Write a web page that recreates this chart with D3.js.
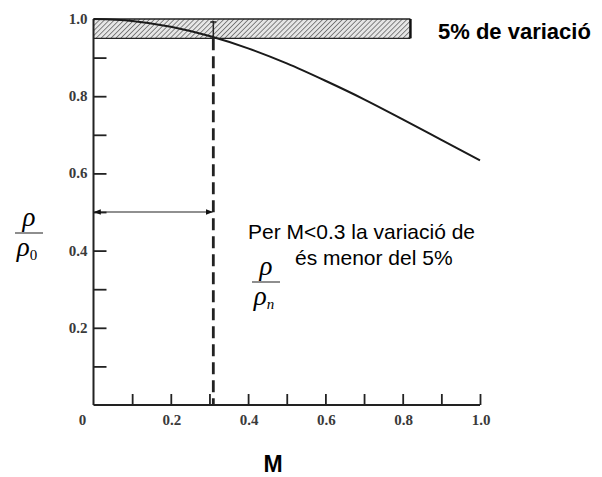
<!DOCTYPE html>
<html>
<head>
<meta charset="utf-8">
<script src="https://cdn.jsdelivr.net/npm/d3@7/dist/d3.min.js"></script>
<style>
  html, body { margin: 0; padding: 0; background: #fff; }
  svg { display: block; }
  .tick-lbl { font-family: "Liberation Serif", "DejaVu Serif", serif; font-size: 15px; font-weight: bold; fill: #3a3a3a; }
  .sans { font-family: "Liberation Sans", Arial, sans-serif; fill: #000; }
  .greek { font-family: "Liberation Serif", "Times New Roman", serif; font-style: italic; fill: #000; }
</style>
</head>
<body>
<svg id="chart" width="602" height="477"></svg>
<script>
// values
var machs = [0, 0.1, 0.2, 0.3, 0.4, 0.5, 0.6, 0.7, 0.8, 0.9, 1.0];
var densityRatio = [1.000, 0.995, 0.980, 0.956, 0.924, 0.885, 0.840, 0.792, 0.740, 0.687, 0.634];
var xLabels = [0, 0.2, 0.4, 0.6, 0.8, 1.0];
var yLabels = [0.2, 0.4, 0.6, 0.8, 1.0];
var minorTicks = [0.1, 0.2, 0.3, 0.4, 0.5, 0.6, 0.7, 0.8, 0.9];
var bandLow = 0.95, bandHigh = 1.0, bandEnd = 0.82;
var cutoffM = 0.31;
var arrowY = 0.5;

var svg = d3.select("#chart");

var x = d3.scaleLinear().domain([0, 1]).range([93.5, 480]);
var y = d3.scaleLinear().domain([0, 1]).range([405, 19]);

// hatch pattern
var defs = svg.append("defs");
var pat = defs.append("pattern")
  .attr("id", "hatch")
  .attr("width", 3.5)
  .attr("height", 3.5)
  .attr("patternUnits", "userSpaceOnUse")
  .attr("patternTransform", "rotate(45)");
pat.append("rect").attr("width", 3.5).attr("height", 3.5).attr("fill", "#e6e6e6");
pat.append("line")
  .attr("x1", 0).attr("y1", 0).attr("x2", 0).attr("y2", 3.5)
  .attr("stroke", "#555").attr("stroke-width", 1.4);

var mk = defs.append("marker")
  .attr("id", "head")
  .attr("viewBox", "0 0 10 10")
  .attr("refX", 9).attr("refY", 5)
  .attr("markerWidth", 7).attr("markerHeight", 7)
  .attr("markerUnits", "userSpaceOnUse")
  .attr("orient", "auto-start-reverse");
mk.append("path").attr("d", "M0,1 L10,5 L0,9 Z").attr("fill", "#111");

// 5% band
svg.append("rect")
  .attr("x", x(0))
  .attr("y", y(bandHigh))
  .attr("width", x(bandEnd) - x(0))
  .attr("height", y(bandLow) - y(bandHigh))
  .attr("fill", "url(#hatch)");
svg.append("line")
  .attr("x1", x(0)).attr("x2", x(bandEnd))
  .attr("y1", y(bandHigh)).attr("y2", y(bandHigh))
  .attr("stroke", "#222").attr("stroke-width", 1.5);
svg.append("line")
  .attr("x1", x(0)).attr("x2", x(bandEnd))
  .attr("y1", y(bandLow)).attr("y2", y(bandLow))
  .attr("stroke", "#222").attr("stroke-width", 1.2);
svg.append("line")
  .attr("x1", x(bandEnd)).attr("x2", x(bandEnd))
  .attr("y1", y(bandHigh)).attr("y2", y(bandLow))
  .attr("stroke", "#111").attr("stroke-width", 2.5);

// axes (ticks pointing inward)
var xAxis = d3.axisTop(x).tickValues(minorTicks.concat([1.0])).tickSize(11).tickFormat("");
var gx = svg.append("g").attr("transform", "translate(0," + y(0) + ")").call(xAxis);
var yAxis = d3.axisRight(y).tickValues(minorTicks).tickSize(13).tickFormat("");
var gy = svg.append("g").attr("transform", "translate(" + x(0) + ",0)").call(yAxis);
[gx, gy].forEach(function(g) {
  g.select(".domain").remove();
  g.selectAll(".tick line").attr("stroke", "#222").attr("stroke-width", 1.8);
});
svg.append("line")
  .attr("x1", x(0)).attr("x2", x(1))
  .attr("y1", y(0)).attr("y2", y(0))
  .attr("stroke", "#222").attr("stroke-width", 2);
svg.append("line")
  .attr("x1", x(0)).attr("x2", x(0))
  .attr("y1", y(0)).attr("y2", y(1))
  .attr("stroke", "#222").attr("stroke-width", 2);

// tick labels
svg.selectAll(".xl").data(xLabels).enter().append("text")
  .attr("class", "tick-lbl")
  .attr("x", function(d) { return d === 0 ? x(d) - 11 : x(d) + 1; })
  .attr("y", y(0) + 20)
  .attr("text-anchor", "middle")
  .text(function(d) { return d === 0 ? "0" : d.toFixed(1); });
svg.selectAll(".yl").data(yLabels).enter().append("text")
  .attr("class", "tick-lbl")
  .attr("x", x(0) - 6)
  .attr("y", function(d) { return y(d) + 5; })
  .attr("text-anchor", "end")
  .text(function(d) { return d.toFixed(1); });

// density curve
var line = d3.line()
  .x(function(d, i) { return x(machs[i]); })
  .y(function(d) { return y(d); })
  .curve(d3.curveMonotoneX);
svg.append("path")
  .datum(densityRatio)
  .attr("d", line)
  .attr("fill", "none")
  .attr("stroke", "#1a1a1a")
  .attr("stroke-width", 2);

// dashed cutoff
svg.append("line")
  .attr("x1", x(cutoffM)).attr("x2", x(cutoffM))
  .attr("y1", y(bandLow)).attr("y2", y(0))
  .attr("stroke", "#222").attr("stroke-width", 2.8)
  .attr("stroke-dasharray", "12,6");
svg.append("line")
  .attr("x1", x(cutoffM)).attr("x2", x(cutoffM))
  .attr("y1", y(bandHigh) + 2).attr("y2", y(bandLow))
  .attr("stroke", "#222").attr("stroke-width", 1.5);
svg.append("line")
  .attr("x1", x(cutoffM) - 3).attr("x2", x(cutoffM) + 3)
  .attr("y1", y(bandHigh) + 3).attr("y2", y(bandHigh) + 3)
  .attr("stroke", "#222").attr("stroke-width", 1.5);

// double arrow
svg.append("line")
  .attr("x1", x(0) + 1).attr("x2", x(cutoffM) - 1)
  .attr("y1", y(arrowY)).attr("y2", y(arrowY))
  .attr("stroke", "#222").attr("stroke-width", 1.2)
  .attr("marker-start", "url(#head)")
  .attr("marker-end", "url(#head)");

// legend for band
svg.append("text").attr("class", "sans")
  .attr("x", 438).attr("y", 39)
  .style("font-size", "22px").style("font-weight", "bold")
  .text("5% de variació");

// annotation
svg.append("text").attr("class", "sans")
  .attr("x", 248).attr("y", 239)
  .style("font-size", "21px")
  .text("Per M<0.3 la variació de");
svg.append("text").attr("class", "sans")
  .attr("x", 295).attr("y", 265)
  .style("font-size", "21px")
  .text("és menor del 5%");

function fraction(cx, top, sub) {
  svg.append("text").attr("class", "greek")
    .attr("x", cx).attr("y", top + 11)
    .attr("text-anchor", "middle")
    .style("font-size", "27px")
    .text("ρ");
  svg.append("line")
    .attr("x1", cx - 14).attr("x2", cx + 14)
    .attr("y1", top + 18).attr("y2", top + 18)
    .attr("stroke", "#444").attr("stroke-width", 1.2);
  var t = svg.append("text").attr("class", "greek")
    .attr("x", cx - 2).attr("y", top + 41)
    .attr("text-anchor", "middle")
    .style("font-size", "27px");
  t.append("tspan").text("ρ");
  t.append("tspan").attr("dy", 4).style("font-size", "15px").style("font-style", sub === "0" ? "normal" : "italic").text(sub);
}
fraction(29, 215, "0");
fraction(266, 264, "n");

// x title
svg.append("text").attr("class", "sans")
  .attr("x", 273).attr("y", 472)
  .attr("text-anchor", "middle")
  .style("font-size", "23px").style("font-weight", "bold")
  .text("M");
</script>
</body>
</html>
